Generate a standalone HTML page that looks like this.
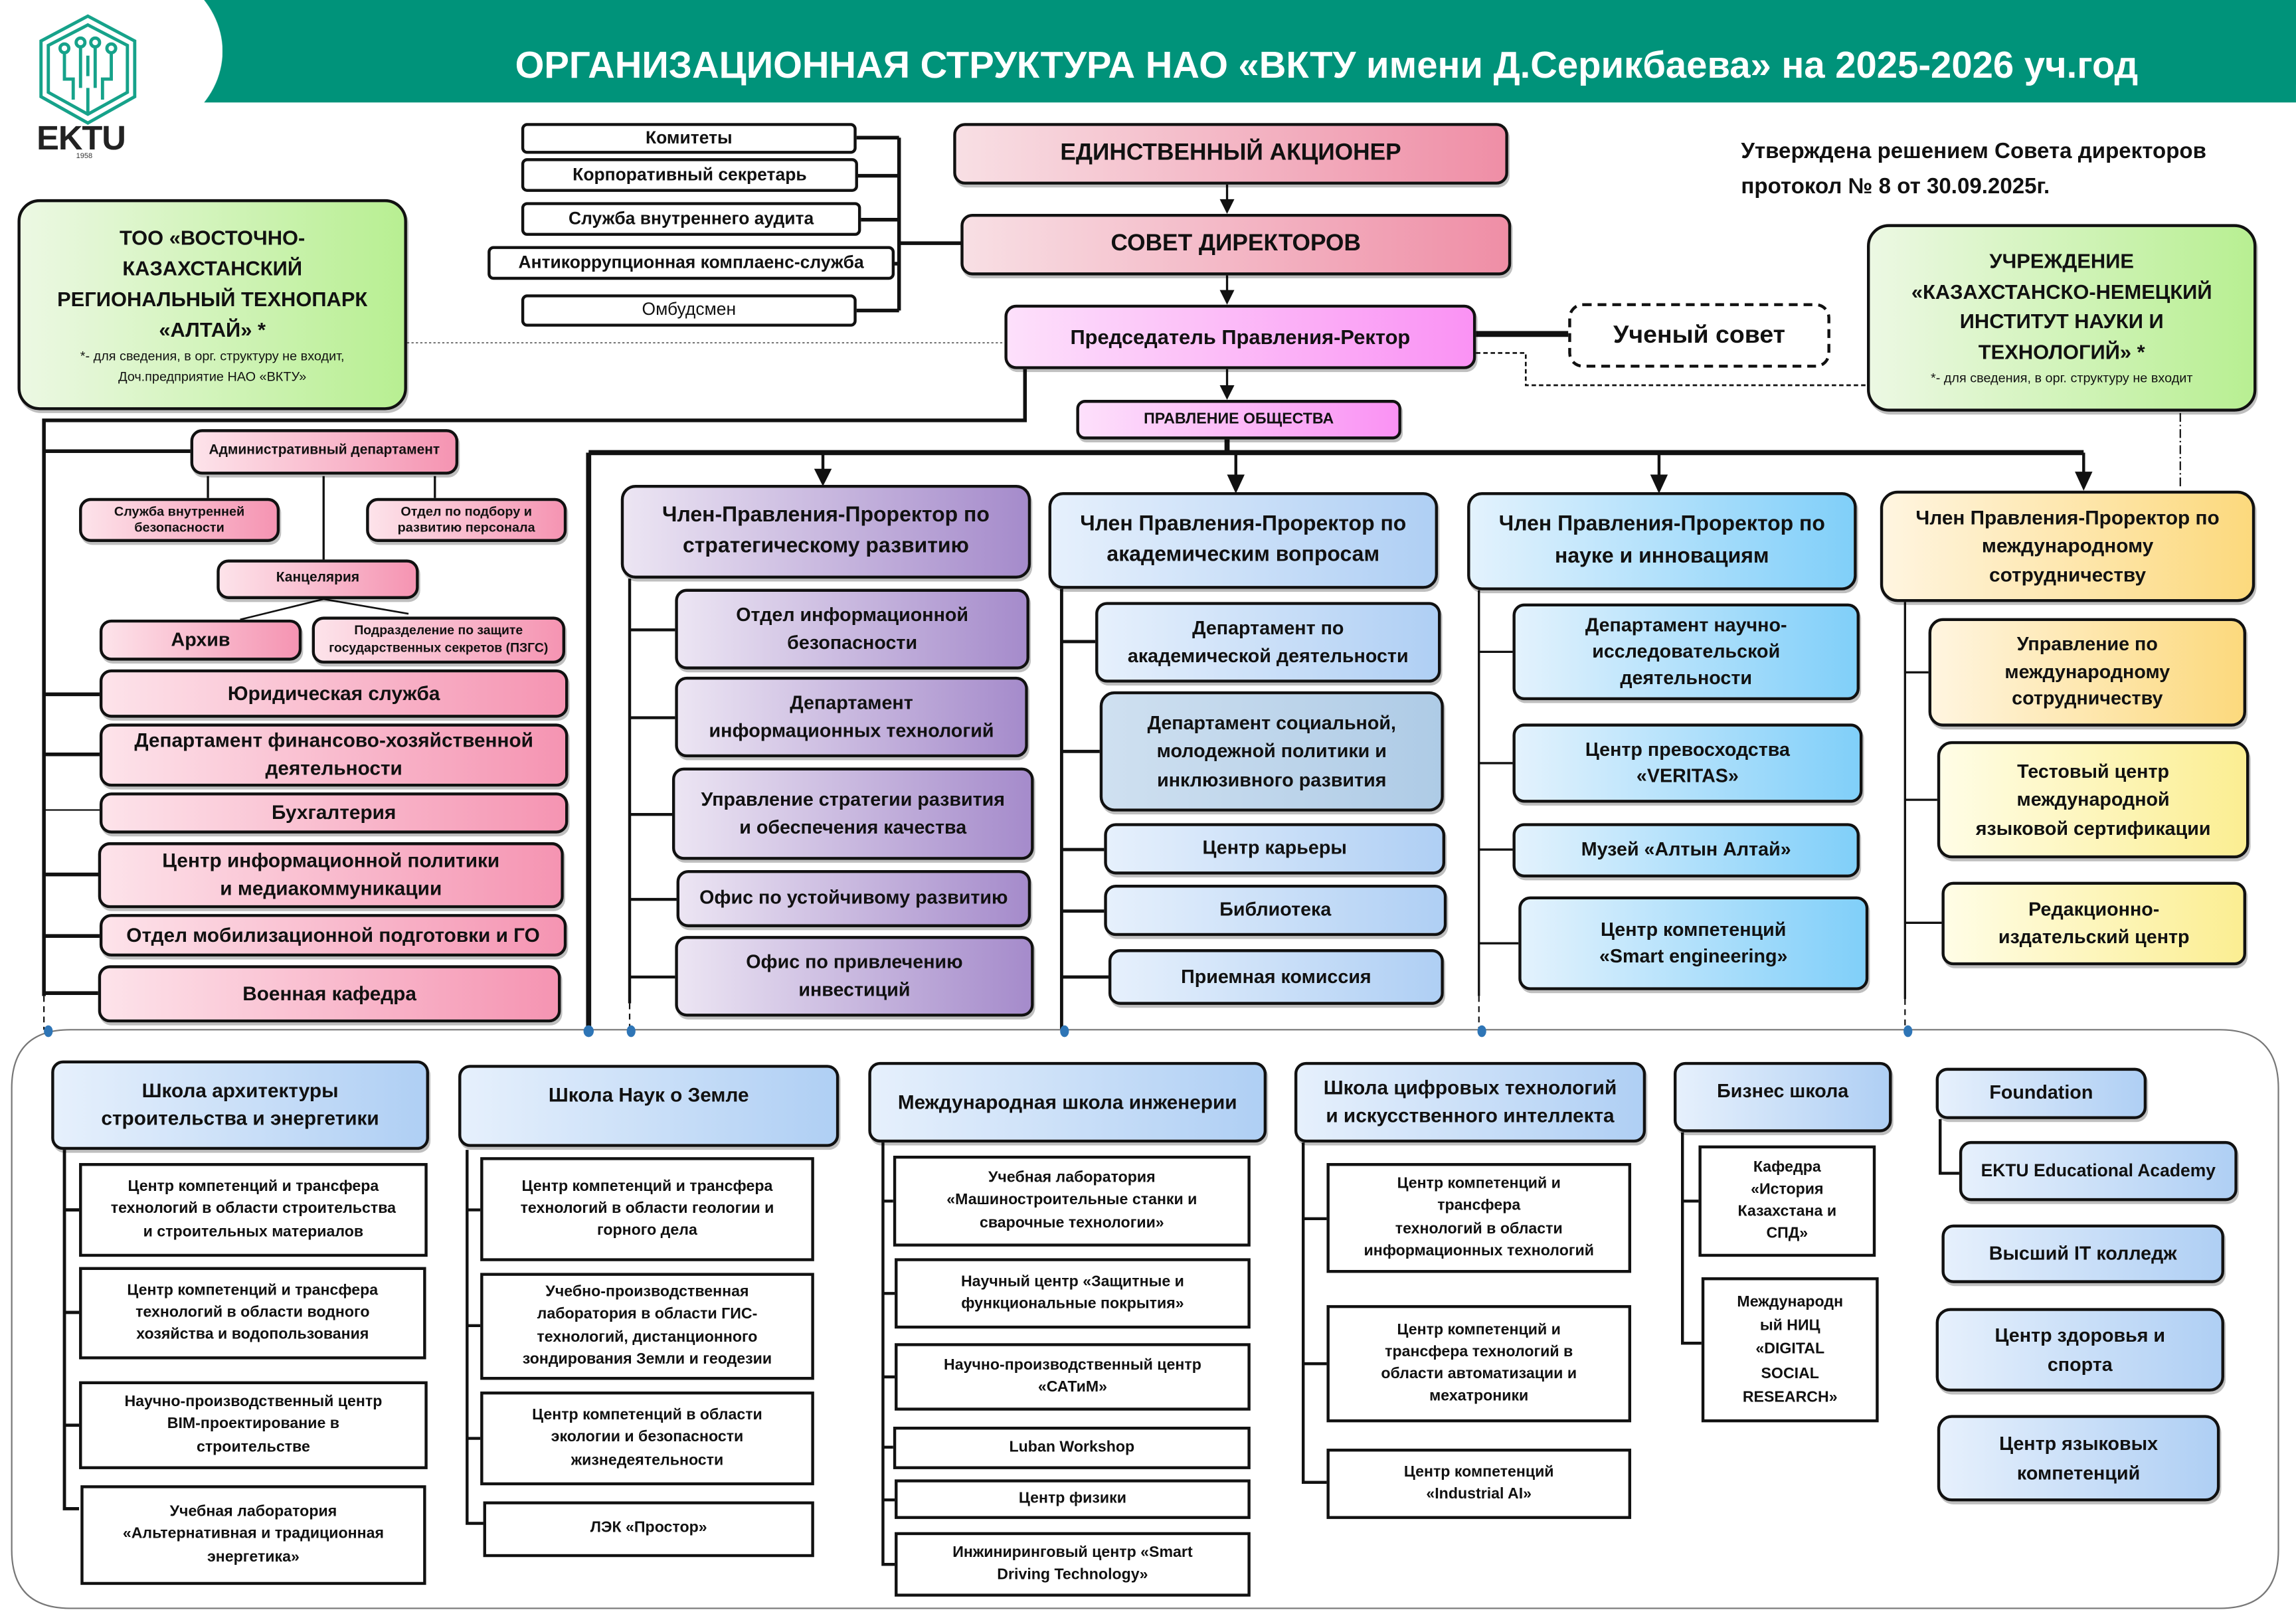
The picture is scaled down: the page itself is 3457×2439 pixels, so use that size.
<!DOCTYPE html>
<html><head><meta charset="utf-8">
<style>
html,body{margin:0;padding:0;background:#fff;}
body{width:3457px;height:2439px;overflow:hidden;position:relative;}
#c{position:absolute;left:0;top:0;width:1568px;height:1106px;transform:scale(2.2047,2.2053);transform-origin:0 0;font-family:"Liberation Sans","DejaVu Sans",sans-serif;color:#111;}
.b{position:absolute;display:flex;align-items:center;justify-content:center;text-align:center;border:2px solid #111;border-radius:8px;font-weight:bold;box-sizing:border-box;line-height:1.3;box-shadow:1px 2px 0 rgba(0,0,0,.25);}
.w{border-radius:0;background:#fff;box-shadow:none;font-size:10.5px;line-height:1.45;}
.pk{background:linear-gradient(90deg,#fde3ea,#f594b2);}
.pk2{background:linear-gradient(90deg,#f8dfe4,#ef8ea6);}
.mg{background:linear-gradient(90deg,#fde0fb,#fa92f4);}
.pu{background:linear-gradient(90deg,#ece5f3,#a58bcb);}
.bl{background:linear-gradient(90deg,#e6f0fc,#afcff4);}
.cy{background:linear-gradient(90deg,#e3f2fd,#80cff9);}
.ye{background:linear-gradient(90deg,#fff5e0,#fcd97d);}
.ye2{background:linear-gradient(90deg,#fffde6,#fbee92);}
.gr{background:linear-gradient(90deg,#ecf8e3,#b8ef92);}
.t{position:absolute;font-weight:bold;}
</style></head><body><div id="c">

<!-- header -->
<div style="position:absolute;left:0;top:0;width:1568px;height:70px;background:#00937a;"></div>
<div style="position:absolute;left:-40px;top:-30px;width:192px;height:130px;background:#fff;border-radius:0 80px 80px 0/0 65px 65px 0;"></div>
<div style="position:absolute;left:0;top:70px;width:1568px;height:4px;background:#fff;"></div>
<div class="t" style="left:300px;top:31px;width:1212px;text-align:center;color:#fff;font-size:25.5px;">ОРГАНИЗАЦИОННАЯ СТРУКТУРА НАО «ВКТУ имени Д.Серикбаева» на 2025-2026 уч.год</div>
<svg style="position:absolute;left:22px;top:8px" width="76" height="80" viewBox="0 0 76 80">
<g fill="none" stroke="#16a28a" stroke-width="2.2">
<polygon points="38,3 70,20 70,58 38,76 6,58 6,20"/>
<polygon points="38,9 65,23 65,55 38,70 11,55 11,23"/>
<path d="M38,70 V52 M28,60 V46 H22 V28 M48,60 V46 H54 V28 M33,52 V24 M43,52 V24 M38,44 V30"/>
<circle cx="22" cy="25" r="3"/><circle cx="54" cy="25" r="3"/><circle cx="33" cy="21" r="3"/><circle cx="43" cy="21" r="3"/>
</g></svg>
<div class="t" style="left:25px;top:81px;font-size:23px;color:#222;letter-spacing:-0.5px;">EKTU</div>
<div class="t" style="left:52px;top:104px;font-size:5px;color:#333;font-weight:normal;">1958</div>

<!-- lines -->
<svg style="position:absolute;left:0;top:0" width="1568" height="1106">
<g stroke="#111" fill="none">
<path d="M614,94 V212 M585,94 H614 M586,120 H614 M588,150 H614 M611,180 H614 M585,212 H614 M614,166 H657" stroke-width="2.5"/>
<path d="M838,126 V138 M838,188 V200 M838,252 V265" stroke-width="1.5"/>
<line x1="1008" y1="228" x2="1071" y2="228" stroke-width="4"/>
<line x1="278" y1="234" x2="686" y2="234" stroke="#777" stroke-width="1" stroke-dasharray="1.5,1.5"/>
<path d="M1008,241 H1042 V263 H1275" stroke-width="1.2" stroke-dasharray="3,2"/>
<line x1="1489" y1="282" x2="1489" y2="334" stroke-width="1" stroke-dasharray="6,2,1,2"/>
<path d="M700,252 V287 H30 V680" stroke-width="2.5"/>
<line x1="30" y1="680" x2="30" y2="703" stroke-width="1" stroke-dasharray="4,3"/>
<path d="M30,308 H130 M30,474 H68 M30,515 H68 M30,597 H68 M30,639 H68 M30,678 H67" stroke-width="2.5"/>
<path d="M30,553 H68" stroke-width="1"/>
<path d="M142,325 V340 M297,325 V340 M221,325 V382" stroke-width="1.5"/>
<path d="M221,409 L164,423 M221,409 L279,419" stroke-width="1.2"/>
<path d="M838,300 V309 M402,309 H1423 M402,309 V703" stroke-width="3.5"/>
<path d="M562,309 V322 M844,309 V326 M1133,309 V326 M1423,309 V324" stroke-width="2"/>
<path d="M430,395 V685 M430,430 H461 M430,490 H461 M430,556 H459 M430,614 H462 M430,667 H461" stroke-width="2"/>
<line x1="430" y1="685" x2="430" y2="703" stroke-width="1" stroke-dasharray="4,3"/>
<path d="M725,402 V703 M725,438 H748 M725,513 H751 M725,580 H754 M725,622 H754 M725,667 H757" stroke-width="2.2"/>
<path d="M1010,403 V680 M1010,445 H1033 M1010,521 H1033 M1010,580 H1033 M1010,644 H1037" stroke-width="1.5"/>
<line x1="1010" y1="680" x2="1010" y2="703" stroke-width="1" stroke-dasharray="4,3"/>
<path d="M1301,411 V682 M1301,459 H1317 M1301,546 H1323 M1301,630 H1326" stroke-width="1.5"/>
<line x1="1301" y1="682" x2="1301" y2="703" stroke-width="1" stroke-dasharray="4,3"/>
<path d="M44,785 V1030 H54 M44,826 H54 M44,896 H54 M44,973 H54" stroke-width="2.2"/>
<path d="M319,785 V1040 H330 M319,826 H328 M319,905 H328 M319,982 H328" stroke-width="2"/>
<path d="M603,780 V1068 H611 M603,820 H610 M603,883 H611 M603,940 H611 M603,988 H610 M603,1024 H611" stroke-width="2"/>
<path d="M890,780 V1012 H906 M890,832 H906 M890,931 H906" stroke-width="2"/>
<path d="M1149,773 V917 H1162 M1149,820 H1160" stroke-width="2"/>
<path d="M1325,764 V801 H1338" stroke-width="2"/>
</g>
<g fill="#111">
<polygon points="833,136 843,136 838,146"/>
<polygon points="833,198 843,198 838,208"/>
<polygon points="833,263 843,263 838,273"/>
<polygon points="556,320 568,320 562,332"/>
<polygon points="838,324 850,324 844,337"/>
<polygon points="1127,324 1139,324 1133,337"/>
<polygon points="1417,322 1429,322 1423,335"/>
</g>
<path d="M48,703 H1516 Q1556,703 1556,743 V1058 Q1556,1098 1516,1098 H48 Q8,1098 8,1058 V743 Q8,703 48,703 z" fill="none" stroke="#777" stroke-width="1"/>
<g fill="#2e75b6">
<ellipse cx="33" cy="704" rx="3" ry="4"/><ellipse cx="402" cy="704" rx="3.5" ry="4"/><ellipse cx="431" cy="704" rx="3" ry="4"/><ellipse cx="727" cy="704" rx="3" ry="4"/><ellipse cx="1012" cy="704" rx="3" ry="4"/><ellipse cx="1303" cy="704" rx="3" ry="4"/>
</g>
</svg>

<div class="b w" style="left:356px;top:84px;width:229px;height:21px;border-radius:4px;font-size:12px;">Комитеты</div>
<div class="b w" style="left:356px;top:108px;width:230px;height:23px;border-radius:4px;font-size:12px;">Корпоративный секретарь</div>
<div class="b w" style="left:356px;top:138px;width:232px;height:23px;border-radius:4px;font-size:12px;">Служба внутреннего аудита</div>
<div class="b w" style="left:333px;top:168px;width:278px;height:23px;border-radius:4px;font-size:12px;">Антикоррупционная комплаенс-служба</div>
<div class="b w" style="left:356px;top:201px;width:229px;height:22px;border-radius:4px;font-size:12px;font-weight:normal;">Омбудсмен</div>

<div class="b pk2" style="left:651px;top:84px;width:379px;height:42px;font-size:16px;">ЕДИНСТВЕННЫЙ АКЦИОНЕР</div>
<div class="b pk2" style="left:656px;top:146px;width:376px;height:42px;font-size:16px;">СОВЕТ ДИРЕКТОРОВ</div>
<div class="b mg" style="left:686px;top:208px;width:322px;height:44px;font-size:14px;">Председатель Правления-Ректор</div>
<div class="b" style="left:1071px;top:207px;width:179px;height:44px;border:2px dashed #111;border-radius:10px;font-size:17px;box-shadow:none;background:#fff;">Ученый совет</div>
<div class="b mg" style="left:735px;top:273px;width:222px;height:27px;font-size:10.5px;border-radius:6px;">ПРАВЛЕНИЕ ОБЩЕСТВА</div>

<div class="t" style="left:1189px;top:92px;font-size:15px;line-height:24px;">Утверждена решением Совета директоров<br>протокол № 8 от 30.09.2025г.</div>

<div class="b gr" style="left:12px;top:136px;width:266px;height:144px;border-radius:15px;flex-direction:column;font-size:14px;line-height:21px;">
<div>ТОО «ВОСТОЧНО-<br>КАЗАХСТАНСКИЙ<br>РЕГИОНАЛЬНЫЙ ТЕХНОПАРК<br>«АЛТАЙ» *</div>
<div style="font-size:9px;font-weight:normal;line-height:14px;">*- для сведения, в орг. структуру не входит,<br>Доч.предприятие НАО «ВКТУ»</div></div>
<div class="b gr" style="left:1275px;top:153px;width:266px;height:128px;border-radius:15px;flex-direction:column;font-size:14px;line-height:20.5px;">
<div>УЧРЕЖДЕНИЕ<br>«КАЗАХСТАНСКО-НЕМЕЦКИЙ<br>ИНСТИТУТ НАУКИ И<br>ТЕХНОЛОГИЙ» *</div>
<div style="font-size:9px;font-weight:normal;line-height:16px;">*- для сведения, в орг. структуру не входит</div></div>

<div class="b pk" style="left:130px;top:293px;width:183px;height:31px;font-size:9.5px;">Административный департамент</div>
<div class="b pk" style="left:54px;top:340px;width:137px;height:30px;font-size:9px;line-height:1.2;">Служба внутренней<br>безопасности</div>
<div class="b pk" style="left:250px;top:340px;width:137px;height:30px;font-size:9px;line-height:1.2;">Отдел по подбору и<br>развитию персонала</div>
<div class="b pk" style="left:148px;top:382px;width:138px;height:27px;font-size:9.5px;">Канцелярия</div>
<div class="b pk" style="left:68px;top:423px;width:138px;height:28px;font-size:13px;">Архив</div>
<div class="b pk" style="left:213px;top:421px;width:173px;height:32px;font-size:8.8px;line-height:1.35;">Подразделение по защите<br>государственных секретов (ПЗГС)</div>
<div class="b pk" style="left:68px;top:457px;width:320px;height:33px;font-size:13.5px;">Юридическая служба</div>
<div class="b pk" style="left:68px;top:494px;width:320px;height:43px;font-size:13.5px;line-height:1.35;">Департамент финансово-хозяйственной<br>деятельности</div>
<div class="b pk" style="left:68px;top:541px;width:320px;height:28px;font-size:13.5px;">Бухгалтерия</div>
<div class="b pk" style="left:67px;top:575px;width:318px;height:45px;font-size:13.5px;line-height:1.35;">Центр информационной политики<br>и медиакоммуникации</div>
<div class="b pk" style="left:68px;top:624px;width:319px;height:29px;font-size:13.5px;">Отдел мобилизационной подготовки и ГО</div>
<div class="b pk" style="left:67px;top:659px;width:316px;height:39px;font-size:13.5px;">Военная кафедра</div>

<div class="b pu" style="left:424px;top:331px;width:280px;height:64px;font-size:14.5px;line-height:1.45;border-radius:10px;">Член-Правления-Проректор по<br>стратегическому развитию</div>
<div class="b pu" style="left:461px;top:402px;width:242px;height:55px;font-size:13px;line-height:1.4;">Отдел информационной<br>безопасности</div>
<div class="b pu" style="left:461px;top:462px;width:241px;height:55px;font-size:13px;line-height:1.4;">Департамент<br>информационных технологий</div>
<div class="b pu" style="left:459px;top:524px;width:247px;height:63px;font-size:13px;line-height:1.4;">Управление стратегии развития<br>и обеспечения качества</div>
<div class="b pu" style="left:462px;top:594px;width:242px;height:39px;font-size:13px;">Офис по устойчивому развитию</div>
<div class="b pu" style="left:461px;top:639px;width:245px;height:55px;font-size:13px;line-height:1.4;">Офис по привлечению<br>инвестиций</div>

<div class="b bl" style="left:716px;top:336px;width:266px;height:66px;font-size:14.5px;line-height:1.45;border-radius:10px;">Член Правления-Проректор по<br>академическим вопросам</div>
<div class="b bl" style="left:748px;top:411px;width:236px;height:55px;font-size:13px;line-height:1.4;">Департамент по<br>академической деятельности</div>
<div class="b" style="left:751px;top:472px;width:235px;height:82px;font-size:13px;line-height:1.5;background:linear-gradient(90deg,#cfe0f0,#aecbe6);border-radius:10px;">Департамент социальной,<br>молодежной политики и<br>инклюзивного развития</div>
<div class="b bl" style="left:754px;top:562px;width:233px;height:35px;font-size:13px;">Центр карьеры</div>
<div class="b bl" style="left:754px;top:604px;width:234px;height:35px;font-size:13px;">Библиотека</div>
<div class="b bl" style="left:757px;top:648px;width:229px;height:38px;font-size:13px;">Приемная комиссия</div>

<div class="b cy" style="left:1002px;top:336px;width:266px;height:67px;font-size:14.5px;line-height:1.45;border-radius:10px;">Член Правления-Проректор по<br>науке и инновациям</div>
<div class="b cy" style="left:1033px;top:412px;width:237px;height:66px;font-size:13px;line-height:1.4;">Департамент научно-<br>исследовательской<br>деятельности</div>
<div class="b cy" style="left:1033px;top:494px;width:239px;height:54px;font-size:13px;line-height:1.4;">Центр превосходства<br>«VERITAS»</div>
<div class="b cy" style="left:1033px;top:562px;width:237px;height:37px;font-size:13px;">Музей «Алтын Алтай»</div>
<div class="b cy" style="left:1037px;top:612px;width:239px;height:64px;font-size:13px;line-height:1.4;">Центр компетенций<br>«Smart engineering»</div>

<div class="b ye" style="left:1284px;top:335px;width:256px;height:76px;font-size:13.5px;line-height:1.45;border-radius:12px;">Член Правления-Проректор по<br>международному<br>сотрудничеству</div>
<div class="b ye" style="left:1317px;top:422px;width:217px;height:74px;font-size:13px;line-height:1.45;border-radius:10px;">Управление по<br>международному<br>сотрудничеству</div>
<div class="b ye2" style="left:1323px;top:506px;width:213px;height:80px;font-size:13px;line-height:1.5;border-radius:10px;">Тестовый центр<br>международной<br>языковой сертификации</div>
<div class="b ye2" style="left:1326px;top:602px;width:208px;height:57px;font-size:13px;line-height:1.45;">Редакционно-<br>издательский центр</div>

<div class="b bl" style="left:35px;top:724px;width:258px;height:61px;font-size:13.5px;line-height:1.4;">Школа архитектуры<br>строительства и энергетики</div>
<div class="b w" style="left:54px;top:794px;width:238px;height:64px;">Центр компетенций и трансфера<br>технологий в области строительства<br>и строительных материалов</div>
<div class="b w" style="left:54px;top:865px;width:237px;height:63px;">Центр компетенций и трансфера<br>технологий в области водного<br>хозяйства и водопользования</div>
<div class="b w" style="left:54px;top:943px;width:238px;height:60px;">Научно-производственный центр<br>BIM-проектирование в<br>строительстве</div>
<div class="b w" style="left:55px;top:1014px;width:236px;height:68px;">Учебная лаборатория<br>«Альтернативная и традиционная<br>энергетика»</div>

<div class="b bl" style="left:313px;top:727px;width:260px;height:56px;font-size:13.5px;align-items:flex-start;padding-top:10px;">Школа Наук о Земле</div>
<div class="b w" style="left:328px;top:790px;width:228px;height:71px;">Центр компетенций и трансфера<br>технологий в области геологии и<br>горного дела</div>
<div class="b w" style="left:328px;top:869px;width:228px;height:73px;">Учебно-производственная<br>лаборатория в области ГИС-<br>технологий, дистанционного<br>зондирования Земли и геодезии</div>
<div class="b w" style="left:328px;top:950px;width:228px;height:64px;">Центр компетенций в области<br>экологии и безопасности<br>жизнедеятельности</div>
<div class="b w" style="left:330px;top:1025px;width:226px;height:38px;">ЛЭК «Простор»</div>

<div class="b bl" style="left:593px;top:725px;width:272px;height:55px;font-size:13.5px;">Международная школа инженерии</div>
<div class="b w" style="left:610px;top:789px;width:244px;height:62px;">Учебная лаборатория<br>«Машиностроительные станки и<br>сварочные технологии»</div>
<div class="b w" style="left:611px;top:859px;width:243px;height:48px;">Научный центр «Защитные и<br>функциональные покрытия»</div>
<div class="b w" style="left:611px;top:917px;width:243px;height:46px;">Научно-производственный центр<br>«САТиМ»</div>
<div class="b w" style="left:610px;top:974px;width:244px;height:29px;">Luban Workshop</div>
<div class="b w" style="left:611px;top:1010px;width:243px;height:27px;">Центр физики</div>
<div class="b w" style="left:611px;top:1046px;width:243px;height:44px;">Инжиниринговый центр «Smart<br>Driving Technology»</div>

<div class="b bl" style="left:884px;top:725px;width:240px;height:55px;font-size:13.5px;line-height:1.4;">Школа цифровых технологий<br>и искусственного интеллекта</div>
<div class="b w" style="left:906px;top:794px;width:208px;height:75px;">Центр компетенций и<br>трансфера<br>технологий в области<br>информационных технологий</div>
<div class="b w" style="left:906px;top:891px;width:208px;height:80px;">Центр компетенций и<br>трансфера технологий в<br>области автоматизации и<br>мехатроники</div>
<div class="b w" style="left:906px;top:989px;width:208px;height:48px;">Центр компетенций<br>«Industrial AI»</div>

<div class="b bl" style="left:1143px;top:725px;width:149px;height:48px;font-size:13px;align-items:flex-start;padding-top:10px;">Бизнес школа</div>
<div class="b w" style="left:1160px;top:782px;width:121px;height:76px;">Кафедра<br>«История<br>Казахстана и<br>СПД»</div>
<div class="b w" style="left:1162px;top:872px;width:121px;height:99px;line-height:1.55;">Международн<br>ый НИЦ<br>«DIGITAL<br>SOCIAL<br>RESEARCH»</div>

<div class="b bl" style="left:1322px;top:729px;width:144px;height:35px;font-size:13px;">Foundation</div>
<div class="b bl" style="left:1338px;top:779px;width:190px;height:41px;font-size:12px;">EKTU Educational Academy</div>
<div class="b bl" style="left:1326px;top:836px;width:193px;height:40px;font-size:13px;">Высший IT колледж</div>
<div class="b bl" style="left:1322px;top:893px;width:197px;height:57px;font-size:13px;line-height:1.5;border-radius:10px;">Центр здоровья и<br>спорта</div>
<div class="b bl" style="left:1323px;top:966px;width:193px;height:59px;font-size:13px;line-height:1.5;border-radius:10px;">Центр языковых<br>компетенций</div>

</div></body></html>
